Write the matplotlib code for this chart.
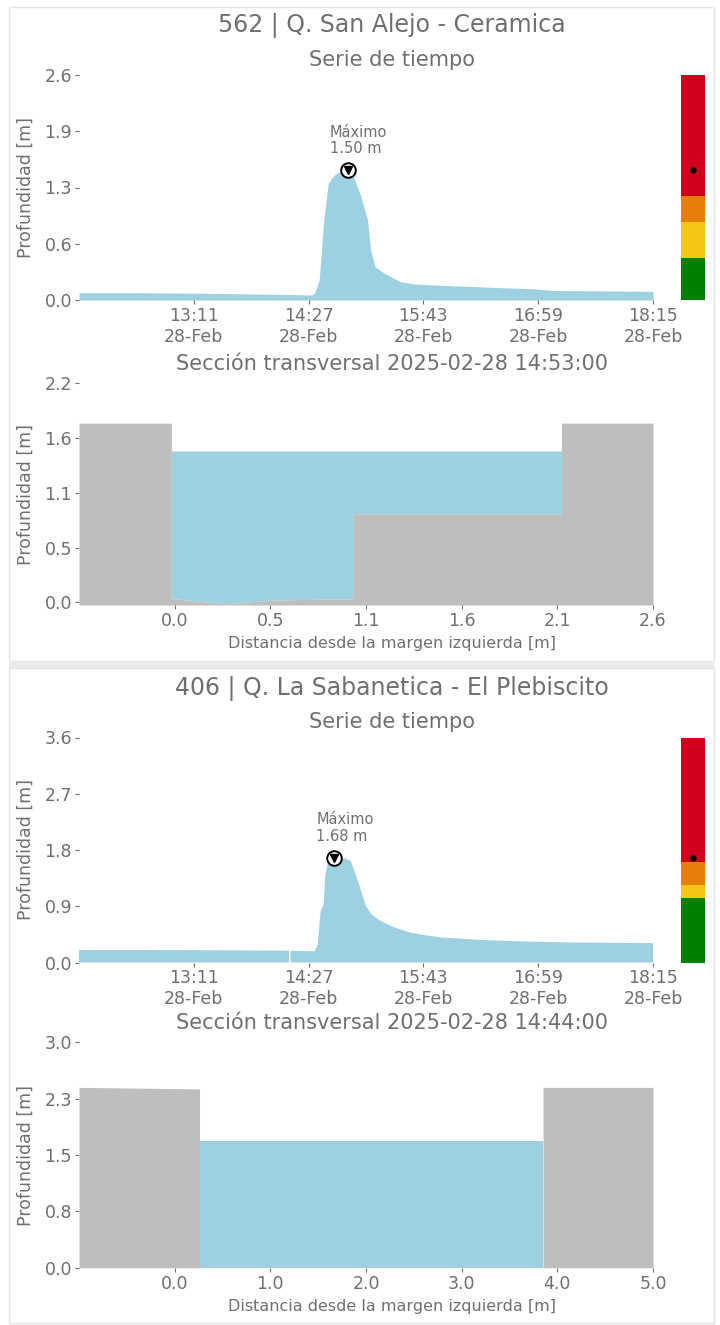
import numpy as np
import pandas as pd
import matplotlib
matplotlib.use('Agg')
import matplotlib.pyplot as plt
import matplotlib.dates as mdates
from matplotlib.patches import Rectangle

# ======================== Data ========================
DAY = "2025-02-28"

# --- Station 562 ---
title_1 = "562 | Q. San Alejo - Ceramica"
times_1 = ["11:55", "12:30", "13:20", "14:17", "14:29", "14:31", "14:34", "14:37",
           "14:40", "14:44", "14:48", "14:53", "14:57", "15:01", "15:06", "15:08",
           "15:11", "15:17", "15:28", "15:37", "16:01", "16:38", "16:56", "17:08",
           "18:15"]
depth_1 = [0.085, 0.085, 0.077, 0.062, 0.058, 0.08, 0.23, 0.92,
           1.35, 1.445, 1.49, 1.50, 1.41, 1.23, 0.93, 0.58,
           0.385, 0.31, 0.21, 0.185, 0.165, 0.14, 0.13, 0.11,
           0.10]
ts_ymax_1 = 2.6
ts_ylabels_1 = ["0.0", "0.6", "1.3", "1.9", "2.6"]
alert_edges_1 = [0.0, 0.49, 0.90, 1.20, 2.6]
sec_time_1 = "2025-02-28 14:53:00"
ground_x_1 = [-0.52, -0.018, -0.018, 0.0, 0.27, 0.55, 0.968, 0.968, 2.102, 2.102, 2.6]
ground_y_1 = [1.80, 1.80, 0.03, 0.036, -0.015, 0.024, 0.036, 0.89, 0.89, 1.80, 1.80]
water_1 = 1.52
sec_ymax_1 = 2.2
sec_ylabels_1 = ["0.0", "0.5", "1.1", "1.6", "2.2"]
sec_xlabels_1 = ["0.0", "0.5", "1.1", "1.6", "2.1", "2.6"]

# --- Station 406 ---
title_2 = "406 | Q. La Sabanetica - El Plebiscito"
times_2 = ["11:55", "12:40", "13:30", "14:14", "14:14", "14:15", "14:31", "14:33",
           "14:35", "14:37", "14:38", "14:40", "14:44", "14:48", "14:51", "14:55",
           "15:00", "15:05", "15:09", "15:15", "15:24", "15:34", "15:43", "15:55",
           "16:22", "16:53", "17:23", "18:15"]
depth_2 = [0.20, 0.20, 0.195, 0.19, np.nan, 0.185, 0.18, 0.28,
           0.82, 0.93, 1.38, 1.62, 1.68, 1.64, 1.67, 1.62,
           1.28, 0.90, 0.76, 0.66, 0.56, 0.48, 0.44, 0.40,
           0.36, 0.335, 0.32, 0.31]
ts_ymax_2 = 3.6
ts_ylabels_2 = ["0.0", "0.9", "1.8", "2.7", "3.6"]
alert_edges_2 = [0.0, 1.04, 1.245, 1.61, 3.6]
sec_time_2 = "2025-02-28 14:44:00"
ground_x_2 = [-1.0, 0.26, 0.26, 3.85, 3.85, 5.0]
ground_y_2 = [2.40, 2.38, 0.0, 0.0, 2.40, 2.40]
water_2 = 1.69
sec_ymax_2 = 3.0
sec_ylabels_2 = ["0.0", "0.8", "1.5", "2.3", "3.0"]
sec_xlabels_2 = ["0.0", "1.0", "2.0", "3.0", "4.0", "5.0"]

tick_times = ["13:11", "14:27", "15:43", "16:59", "18:15"]
alert_colors = ["#008000", "#f5c518", "#e67e08", "#d0021b"]

# ======================== Style ========================
W, H = 720, 1325
TXT = "#6f6f6f"
WATER = "#9dd0e0"
GROUND = "#bebebe"
BORDER = "#e4e4e4"


def px_box(x0, y0, x1, y1):
    """Pixel rect (top-left origin) -> figure fraction rect."""
    return [x0 / W, 1 - y1 / H, (x1 - x0) / W, (y1 - y0) / H]


def style_axes(ax):
    for s in ax.spines.values():
        s.set_visible(False)
    ax.tick_params(axis='both', colors=TXT, labelsize=12.5, length=3, width=0.8, pad=2)


def to_dt(times):
    return pd.to_datetime([f"{DAY} {t}" for t in times])


def fig_text(fig, x, y, s, size, **kw):
    fig.text(x / W, 1 - y / H, s, fontsize=size, color=TXT, ha='center', va='center', **kw)


def draw_station(fig, dy, title, times, depth, ts_ymax, ts_ylabels, alert_edges,
                 sec_time, gx, gy, water, sec_ymax, sec_ylabels, sec_xlabels, sec_box):
    # panel frame
    fig_text(fig, 392, dy + 26, title, 17)
    fig_text(fig, 392, dy + 60, "Serie de tiempo", 15)

    # --- time series ---
    t = to_dt(times)
    v = np.array(depth, dtype=float)
    ax = fig.add_axes(px_box(79, dy + 75, 653, dy + 300))
    style_axes(ax)
    ax.fill_between(t, 0, v, color=WATER, lw=0)
    ax.set_xlim(t[0], t[-1])
    ax.set_ylim(0, ts_ymax)
    ax.set_yticks(np.linspace(0, ts_ymax, 5))
    ax.set_yticklabels(ts_ylabels)
    ax.set_xticks(to_dt(tick_times))
    ax.xaxis.set_major_formatter(mdates.DateFormatter('%H:%M\n%d-%b'))
    fig_text(fig, 26, dy + 187.5, "Profundidad [m]", 12.5, rotation=90)

    i = np.nanargmax(v)
    ax.plot(t[i], v[i], 'o', ms=10.5, mfc='white', mec='black', mew=1.4, clip_on=False)
    ax.plot(t[i], v[i], 'v', ms=5.5, color='black', clip_on=False)
    ax.annotate(f"Máximo\n{v[i]:.2f} m", xy=(t[i], v[i]), xytext=(-13, 10),
                textcoords='offset points', ha='left', va='bottom',
                fontsize=10.5, color=TXT, linespacing=1.1)

    # --- alert bar ---
    axa = fig.add_axes(px_box(681, dy + 75, 705, dy + 300))
    axa.set_axis_off()
    axa.bar(0, np.diff(alert_edges), bottom=alert_edges[:-1], width=1,
            color=alert_colors, lw=0)
    axa.plot(0, v[i], 'o', ms=3.5, color='black')
    axa.set_xlim(-0.5, 0.5)
    axa.set_ylim(0, ts_ymax)

    # --- cross section ---
    y0, y1, ylo = sec_box
    fig_text(fig, 392, y0 - 19.5, f"Sección transversal {sec_time}", 15)
    axs = fig.add_axes(px_box(79, y0, 653, y1))
    style_axes(axs)
    gx = np.array(gx)
    gy = np.array(gy)
    axs.set_ylim(ylo, sec_ymax)
    axs.set_xlim(gx[0], gx[-1])
    axs.fill_between(gx, gy, ylo, color=GROUND, lw=0)
    axs.fill_between(gx, gy, water, where=gy < water, color=WATER, lw=0)
    axs.set_yticks(np.linspace(0, sec_ymax, 5))
    axs.set_yticklabels(sec_ylabels)
    axs.set_xticks(np.linspace(0, gx[-1], 6))
    axs.set_xticklabels(sec_xlabels)
    fig_text(fig, 26, (y0 + y1) / 2, "Profundidad [m]", 12.5, rotation=90)
    fig_text(fig, 392, y1 + 38.5, "Distancia desde la margen izquierda [m]", 11.5)


fig = plt.figure(figsize=(W / 100, H / 100), dpi=100)
fig.patch.set_facecolor('white')

# frames and separator
fig.add_artist(Rectangle((9 / W, 1 - 661 / H), 705 / W, 654 / H, transform=fig.transFigure,
                         fill=False, edgecolor=BORDER, lw=1))
fig.add_artist(Rectangle((9 / W, 1 - 668 / H), 705 / W, 7 / H, transform=fig.transFigure,
                         facecolor="#ebebeb", lw=0))
fig.add_artist(Rectangle((9 / W, 1 - 1323 / H), 705 / W, 655 / H, transform=fig.transFigure,
                         fill=False, edgecolor=BORDER, lw=1))

draw_station(fig, 0, title_1, times_1, depth_1, ts_ymax_1, ts_ylabels_1, alert_edges_1,
             sec_time_1, ground_x_1, ground_y_1, water_1, sec_ymax_1, sec_ylabels_1,
             sec_xlabels_1, (383.3, 605, -0.027))
draw_station(fig, 662.5, title_2, times_2, depth_2, ts_ymax_2, ts_ylabels_2, alert_edges_2,
             sec_time_2, ground_x_2, ground_y_2, water_2, sec_ymax_2, sec_ylabels_2,
             sec_xlabels_2, (1042.3, 1267.7, 0.0))

fig.savefig("out.png", dpi=100, facecolor='white')
